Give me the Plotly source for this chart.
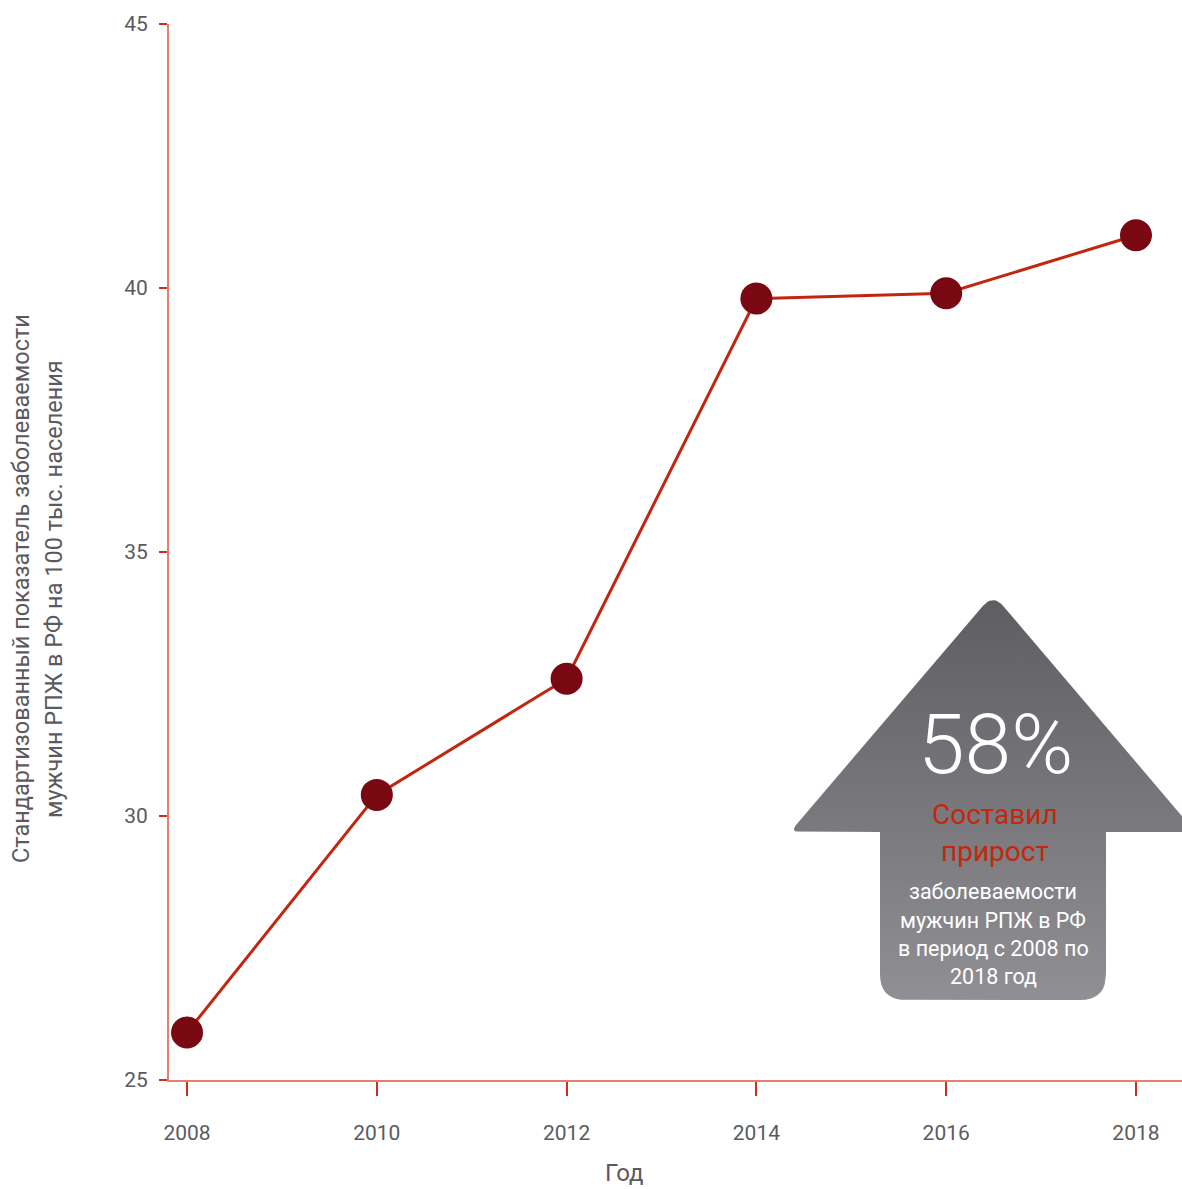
import numpy as np
import plotly.graph_objects as go

# ---- data ----
years = [2008, 2010, 2012, 2014, 2016, 2018]
rates = [25.9, 30.4, 32.6, 39.8, 39.9, 41.0]
y_ticks = [25, 30, 35, 40, 45]
x_ticks = [2008, 2010, 2012, 2014, 2016, 2018]
y_title_lines = ["Стандартизованный показатель заболеваемости",
                 "мужчин РПЖ в РФ на 100 тыс. населения"]
x_title = "Год"
badge_value = "58%"
badge_head = ["Составил", "прирост"]
badge_body = ["заболеваемости", "мужчин РПЖ в РФ", "в период с 2008 по", "2018 год"]

# ---- layout constants ----
W, H = 1182, 1189
L, R, T, B = 169, 0, 24, 109
PW, PH = W - L - R, H - T - B
FONT = "Roboto"
GREY = "#5b5a60"
RED_LINE = "#c3260f"
RED_DOT = "#7a0812"
AXIS_LINE = "#e5806f"
TICK = "#c9301a"


def px_to_paper(px, py):
    return (px - L) / PW, (H - B - py) / PH


def rounded_polygon(vertices, radii, n=10):
    pts = []
    N = len(vertices)
    for i in range(N):
        P = np.array(vertices[i], float)
        A = np.array(vertices[i - 1], float)
        Bv = np.array(vertices[(i + 1) % N], float)
        r = radii[i]
        if r == 0:
            pts.append(P)
            continue
        u = (A - P) / np.linalg.norm(A - P)
        v = (Bv - P) / np.linalg.norm(Bv - P)
        p0 = P + r * u
        p2 = P + r * v
        for t in np.linspace(0, 1, n):
            pts.append((1 - t) ** 2 * p0 + 2 * (1 - t) * t * P + t ** 2 * p2)
    pts.append(pts[0])
    arr = np.array(pts)
    return arr[:, 0], arr[:, 1]


# arrow badge in pixel coordinates (overlay axes)
arrow_vertices = [(993, 594), (1196, 832), (1106, 832), (1106, 1000),
                  (880, 1000), (880, 832), (790, 832)]
arrow_radii = [16, 10, 0, 26, 26, 0, 10]
ax_, ay_ = rounded_polygon(arrow_vertices, arrow_radii)

fig = go.Figure()

fig.add_trace(go.Scatter(
    x=years, y=rates, mode="lines+markers",
    line=dict(color=RED_LINE, width=3),
    marker=dict(color=RED_DOT, size=32, line=dict(width=0)),
    cliponaxis=False, showlegend=False, hoverinfo="skip",
))

fig.add_trace(go.Scatter(
    x=ax_, y=ay_, xaxis="x2", yaxis="y2", mode="lines",
    fill="toself",
    fillgradient=dict(type="vertical",
                      colorscale=[[0, "#5e5d62"], [1, "#908f94"]],
                      start=598, stop=1000),
    line=dict(width=0, color="rgba(0,0,0,0)"),
    showlegend=False, hoverinfo="skip",
))

annotations = []
annotations.append(dict(text=badge_value, x=995, y=744, xref="x2", yref="y2",
                        showarrow=False, xanchor="center", yanchor="middle",
                        font=dict(family=FONT, size=84, color="white", weight=300)))
for txt, yy in zip(badge_head, [814, 851]):
    annotations.append(dict(text=txt, x=995, y=yy, xref="x2", yref="y2",
                            showarrow=False, xanchor="center", yanchor="middle",
                            font=dict(family=FONT, size=28, color="#c4260e")))
for txt, yy in zip(badge_body, [891, 920, 948, 976]):
    annotations.append(dict(text=txt, x=993, y=yy, xref="x2", yref="y2",
                            showarrow=False, xanchor="center", yanchor="middle",
                            font=dict(family=FONT, size=21.5, color="white")))
for txt, xx in zip(y_title_lines, [21, 54]):
    xp, yp = px_to_paper(xx, 589)
    annotations.append(dict(text=txt, x=xp, y=yp, xref="paper", yref="paper",
                            showarrow=False, xanchor="center", yanchor="middle",
                            textangle=-90,
                            font=dict(family=FONT, size=23.5, color=GREY)))
xp, yp = px_to_paper(624, 1189)
annotations.append(dict(text=x_title, x=xp, y=yp, xref="paper", yref="paper",
                        showarrow=False, xanchor="center", yanchor="bottom",
                        font=dict(family=FONT, size=24, color=GREY)))

fig.update_layout(
    width=W, height=H,
    margin=dict(l=L, r=R, t=T, b=B, pad=0),
    paper_bgcolor="white", plot_bgcolor="white",
    showlegend=False,
    xaxis=dict(range=[2007.81, 2018.485], tickvals=x_ticks,
               ticks="outside", ticklen=14, tickwidth=1.5, tickcolor=TICK,
               showline=True, linecolor=AXIS_LINE, linewidth=2,
               showgrid=False, zeroline=False, ticklabelstandoff=19,
               tickfont=dict(family=FONT, size=21, color=GREY)),
    yaxis=dict(range=[25, 45], tickvals=y_ticks,
               ticks="outside", ticklen=8, tickwidth=1.5, tickcolor=TICK,
               showline=True, linecolor=AXIS_LINE, linewidth=2,
               showgrid=False, zeroline=False, ticklabelstandoff=7,
               tickfont=dict(family=FONT, size=21, color=GREY)),
    xaxis2=dict(overlaying="x", anchor="y2", range=[L, W - R], visible=False),
    yaxis2=dict(overlaying="y", anchor="x2", range=[H - B, T], visible=False),
    annotations=annotations,
)

fig.write_html("out.html")
